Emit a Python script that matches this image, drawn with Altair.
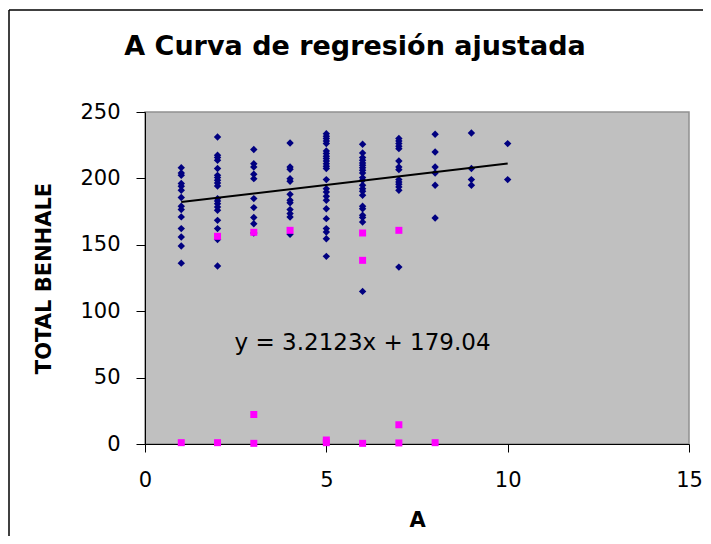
import altair as alt
import pandas as pd

# ---- data ----
col1 = [208.1, 204.1, 202.4, 196.1, 194.1, 191.1, 185.6, 179.0, 176.5, 171.0, 162.2, 155.9, 149.1, 136.2]
col2 = [231.2, 217.4, 215.7, 213.6, 207.4, 202.3, 200.6, 198.6, 196.5, 194.3, 184.8, 183.0, 181.0, 178.5,
        176.0, 168.4, 162.2, 153.9, 134.0]
col3 = [221.7, 211.1, 208.6, 203.1, 199.8, 184.8, 178.0, 170.5, 165.9, 158.9]
col4 = [226.7, 208.6, 206.9, 199.8, 197.8, 188.0, 183.5, 181.7, 176.5, 173.5, 170.9, 157.9]
col5 = [233.7, 231.7, 230.0, 228.2, 226.2, 220.7, 218.7, 216.7, 214.9, 213.1, 211.1, 209.1, 207.4, 199.1,
        192.3, 189.8, 186.5, 183.5, 177.2, 169.7, 162.2, 159.6, 154.6, 141.3]
col6 = [225.7, 219.2, 215.7, 213.6, 211.6, 209.9, 208.1, 206.1, 204.1, 200.6, 198.6, 194.8, 192.3, 190.3,
        187.3, 179.0, 177.2, 172.2, 170.5, 167.1, 114.9]
col7 = [230.0, 228.2, 226.2, 224.2, 222.4, 213.1, 208.6, 206.6, 199.1, 197.3, 195.6, 193.6, 191.0, 133.2]
col8 = [233.2, 219.9, 208.6, 204.1, 194.8, 170.2]
col9 = [234.2, 207.4, 199.1, 194.8]
col10 = [226.2, 199.1]
blue_columns = [col1, col2, col3, col4, col5, col6, col7, col8, col9, col10]

pink_x = [1, 2, 2, 3, 3, 3, 4, 5, 5, 6, 6, 6, 7, 7, 7, 8]
pink_y = [1, 1, 156.4, 0.5, 22.2, 159.4, 160.9, 1, 3, 0.5, 158.9, 138.3, 0.8, 14.5, 160.9, 1]

trend_x = [1, 10]
trend_y = [182.25, 211.16]

equation_label = ["y = 3.2123x + 179.04"]
equation_pos_x = [6.0]
equation_pos_y = [70.5]

x_ticks = [0, 5, 10, 15]
y_ticks = [0, 50, 100, 150, 200, 250]

title_text = "A Curva de regresión ajustada"
x_title = "A"
y_title = "TOTAL BENHALE"

# ---- build tables ----
bx, by = [], []
for i, col in enumerate(blue_columns):
    for v in col:
        bx.append(i + 1)
        by.append(v)
blue_df = pd.DataFrame({"A": bx, "TOTAL": by})
pink_df = pd.DataFrame({"A": pink_x, "TOTAL": pink_y})
trend_df = pd.DataFrame({"A": trend_x, "TOTAL": trend_y})
eq_df = pd.DataFrame({"A": equation_pos_x, "TOTAL": equation_pos_y, "label": equation_label})

W, H = 544, 332
FONT = "DejaVu Sans"

xs = alt.Scale(domain=[0, 15], nice=False, zero=False)
ys = alt.Scale(domain=[0, 250], nice=False)

x_axis = alt.Axis(values=x_ticks, title=x_title, grid=False, tickSize=8, labelPadding=17,
                  labelFontSize=21, labelFont=FONT, labelColor="black",
                  titleFont=FONT, titleFontSize=21, titleFontWeight="bold", titleColor="black",
                  titlePadding=19, domainColor="black", tickColor="black", labelFlush=False)
y_axis = alt.Axis(values=y_ticks, title=y_title, grid=False, tickSize=9, labelPadding=16,
                  labelFontSize=21, labelFont=FONT, labelColor="black",
                  titleFont=FONT, titleFontSize=21, titleFontWeight="bold", titleColor="black",
                  titlePadding=25, domainColor="black", tickColor="black", labelFlush=False)

blue = alt.Chart(blue_df).mark_point(shape="diamond", filled=True, color="#000080", size=55, opacity=1).encode(
    x=alt.X("A:Q", scale=xs, axis=x_axis),
    y=alt.Y("TOTAL:Q", scale=ys, axis=y_axis),
)
pink = alt.Chart(pink_df).mark_point(shape="square", filled=True, color="#FF00FF", size=49, opacity=1).encode(
    x=alt.X("A:Q", scale=xs),
    y=alt.Y("TOTAL:Q", scale=ys),
)
trend = alt.Chart(trend_df).mark_line(color="black", strokeWidth=2).encode(
    x=alt.X("A:Q", scale=xs),
    y=alt.Y("TOTAL:Q", scale=ys),
)
eq = alt.Chart(eq_df).mark_text(font=FONT, fontSize=23, color="black", align="center",
                                baseline="alphabetic").encode(
    x=alt.X("A:Q", scale=xs),
    y=alt.Y("TOTAL:Q", scale=ys),
    text="label:N",
)

frame_df = pd.DataFrame({"k": [0]})
frame_left = alt.Chart(frame_df).mark_rule(color="black", strokeWidth=1.5).encode(
    x=alt.value(-136), y=alt.value(-102), y2=alt.value(430))
frame_top = alt.Chart(frame_df).mark_rule(color="black", strokeWidth=1.5).encode(
    x=alt.value(-136), x2=alt.value(560), y=alt.value(-102))

chart = alt.layer(blue, pink, trend, eq, frame_left, frame_top).properties(
    width=W, height=H,
    title=alt.TitleParams(title_text, font=FONT, fontSize=27, fontWeight="bold", color="black",
                          anchor="middle", dx=-62, offset=-52),
    autosize=alt.AutoSizeParams(type="none"),
    padding={"left": 137, "top": 104, "right": 14, "bottom": 92},
    background="white",
).configure_view(fill="#C0C0C0", stroke="#909090", strokeWidth=1.5)

chart.save("out.html", embed_options={"renderer": "svg", "actions": False})
